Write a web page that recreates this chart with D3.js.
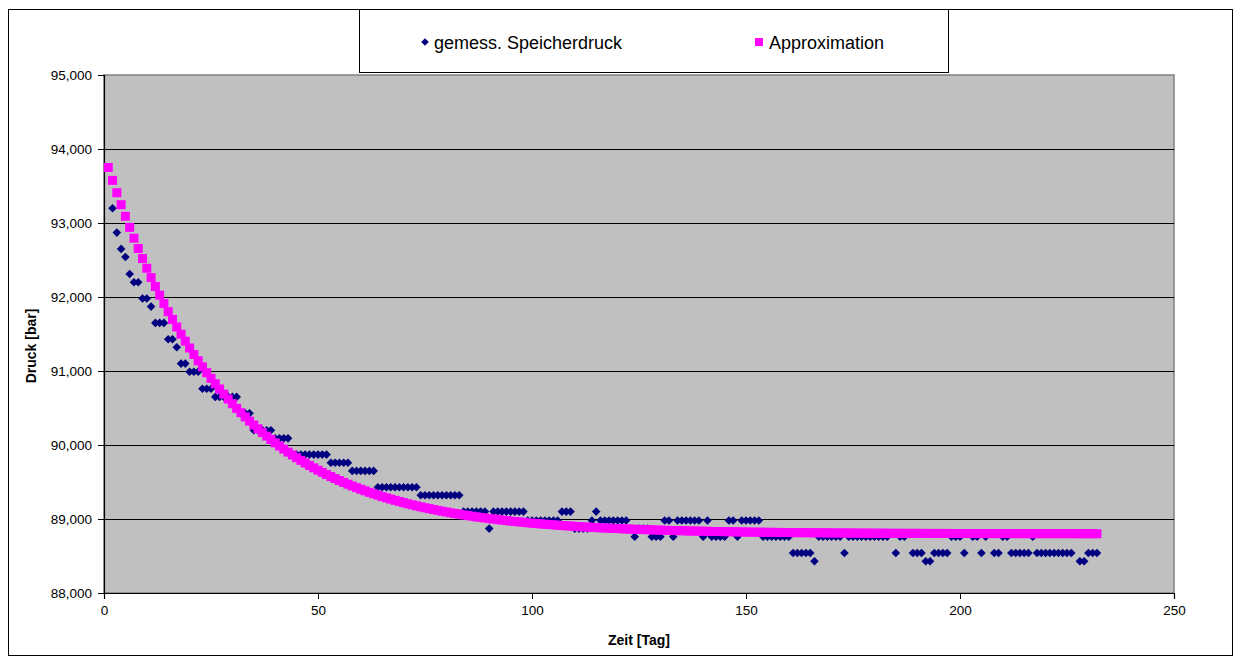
<!DOCTYPE html>
<html>
<head>
<meta charset="utf-8">
<script src="https://cdn.jsdelivr.net/npm/d3@7"></script>
<style>
  body { margin: 0; background: #fff; }
  svg { display: block; font-family: "Liberation Sans", Arial, sans-serif; }
</style>
</head>
<body>
<svg id="chart" width="1242" height="661"></svg>
<script>
// Reservoir pressure per day (day 1 = first entry); null = no reading that day
const firstDay = 1;
const measured = [
  null, 93200, 92870, 92650, 92540, 92310, 92200, 92200, 91980, 91980,
  91870, 91650, 91650, 91650, 91430, 91430, 91320, 91100, 91100, 90990,
  90990, 90990, 90760, 90760, 90760, 90650, 90650, 90650, 90650, 90650,
  90650, 90430, 90430, 90430, 90200, 90200, 90200, 90200, 90200, 90090,
  90090, 90090, 90090, 89870, 89870, 89870, 89870, 89870, 89870, 89870,
  89870, 89870, 89760, 89760, 89760, 89760, 89760, 89650, 89650, 89650,
  89650, 89650, 89650, 89430, 89430, 89430, 89430, 89430, 89430, 89430,
  89430, 89430, 89430, 89320, 89320, 89320, 89320, 89320, 89320, 89320,
  89320, 89320, 89320, 89100, 89100, 89100, 89100, 89100, 89100, 88870,
  89100, 89100, 89100, 89100, 89100, 89100, 89100, 89100, 88980, 88980,
  88980, 88980, 88980, 88980, 88980, 88980, 89100, 89100, 89100, 88870,
  88870, 88870, 88870, 88980, 89100, 88980, 88980, 88980, 88980, 88980,
  88980, 88980, 88870, 88760, 88870, 88870, 88870, 88760, 88760, 88760,
  88980, 88980, 88760, 88980, 88980, 88980, 88980, 88980, 88980, 88760,
  88980, 88760, 88760, 88760, 88760, 88980, 88980, 88760, 88980, 88980,
  88980, 88980, 88980, 88760, 88760, 88760, 88760, 88760, 88760, 88760,
  88540, 88540, 88540, 88540, 88540, 88430, 88760, 88760, 88760, 88760,
  88760, 88760, 88540, 88760, 88760, 88760, 88760, 88760, 88760, 88760,
  88760, 88760, 88760, null, 88540, 88760, 88760, null, 88540, 88540,
  88540, 88430, 88430, 88540, 88540, 88540, 88540, 88760, 88760, 88760,
  88540, null, 88760, 88760, 88540, 88760, null, 88540, 88540, 88760,
  88760, 88540, 88540, 88540, 88540, 88540, 88760, 88540, 88540, 88540,
  88540, 88540, 88540, 88540, 88540, 88540, null, 88430, 88430, 88540,
  88540, 88540
];

// Fitted decline curve, one value per day
const approximation = [
  93750, 93576, 93409, 93247, 93091, 92941, 92795, 92655, 92520, 92389,
  92263, 92142, 92025, 91911, 91802, 91697, 91595, 91497, 91403, 91311,
  91223, 91138, 91056, 90977, 90901, 90827, 90756, 90687, 90621, 90557,
  90495, 90436, 90379, 90323, 90270, 90218, 90168, 90120, 90074, 90029,
  89986, 89945, 89904, 89866, 89828, 89792, 89757, 89724, 89691, 89660,
  89630, 89601, 89573, 89546, 89520, 89494, 89470, 89446, 89424, 89402,
  89381, 89360, 89341, 89322, 89303, 89286, 89269, 89252, 89236, 89221,
  89206, 89192, 89178, 89165, 89152, 89140, 89128, 89116, 89105, 89095,
  89084, 89074, 89065, 89055, 89046, 89038, 89029, 89021, 89014, 89006,
  88999, 88992, 88985, 88979, 88972, 88966, 88961, 88955, 88949, 88944,
  88939, 88934, 88930, 88925, 88921, 88916, 88912, 88908, 88905, 88901,
  88897, 88894, 88891, 88887, 88884, 88881, 88879, 88876, 88873, 88871,
  88868, 88866, 88863, 88861, 88859, 88857, 88855, 88853, 88851, 88849,
  88848, 88846, 88844, 88843, 88841, 88840, 88838, 88837, 88836, 88835,
  88833, 88832, 88831, 88830, 88829, 88828, 88827, 88826, 88825, 88824,
  88823, 88822, 88822, 88821, 88820, 88820, 88819, 88818, 88818, 88817,
  88816, 88816, 88815, 88815, 88814, 88814, 88813, 88813, 88812, 88812,
  88811, 88811, 88811, 88810, 88810, 88810, 88809, 88809, 88809, 88808,
  88808, 88808, 88807, 88807, 88807, 88807, 88806, 88806, 88806, 88806,
  88806, 88805, 88805, 88805, 88805, 88805, 88805, 88804, 88804, 88804,
  88804, 88804, 88804, 88804, 88803, 88803, 88803, 88803, 88803, 88803,
  88803, 88803, 88803, 88802, 88802, 88802, 88802, 88802, 88802, 88802,
  88802, 88802, 88802, 88802, 88802, 88802, 88802, 88801, 88801, 88801,
  88801, 88801
];

const xTicks = [0, 50, 100, 150, 200, 250];
const yTicks = [88000, 89000, 90000, 91000, 92000, 93000, 94000, 95000];
const seriesNames = ["gemess. Speicherdruck", "Approximation"];
const xTitle = "Zeit [Tag]";
const yTitle = "Druck [bar]";

const svg = d3.select("#chart");
const plot = { left: 104, right: 1174, top: 75, bottom: 593 };

const x = d3.scaleLinear().domain([0, 250]).range([plot.left, plot.right]);
const y = d3.scaleLinear().domain([88000, 95000]).range([plot.bottom, plot.top]);

// outer chart frame
svg.append("rect")
  .attr("x", 8.5).attr("y", 9.5).attr("width", 1224).attr("height", 646)
  .attr("fill", "#fff").attr("stroke", "#000").attr("stroke-width", 1);

// plot area
svg.append("rect")
  .attr("x", plot.left).attr("y", plot.top)
  .attr("width", plot.right - plot.left).attr("height", plot.bottom - plot.top)
  .attr("fill", "#c0c0c0").attr("stroke", "#808080").attr("stroke-width", 1.5);

// horizontal gridlines
svg.append("g")
  .selectAll("line")
  .data(yTicks.filter(t => t > 88000 && t < 95000))
  .join("line")
  .attr("x1", plot.left).attr("x2", plot.right)
  .attr("y1", d => Math.round(y(d)) + 0.5).attr("y2", d => Math.round(y(d)) + 0.5)
  .attr("stroke", "#000").attr("stroke-width", 1);

// axes
const yAxis = d3.axisLeft(y).tickValues(yTicks).tickFormat(d3.format(",")).tickSize(6).tickPadding(6);
const xAxis = d3.axisBottom(x).tickValues(xTicks).tickFormat(d3.format("d")).tickSize(6).tickPadding(6);

const gy = svg.append("g").attr("transform", `translate(${plot.left},0)`).call(yAxis);
const gx = svg.append("g").attr("transform", `translate(0,${plot.bottom})`).call(xAxis);
[gx, gy].forEach(g => {
  g.select(".domain").attr("stroke", "#000").attr("stroke-width", 1.2);
  g.selectAll(".tick line").attr("stroke", "#000");
  g.selectAll(".tick text").attr("fill", "#000")
    .style("font-size", "13.5px").style("font-family", '"Liberation Sans", Arial, sans-serif');
});

// axis titles
svg.append("text")
  .attr("x", (plot.left + plot.right) / 2).attr("y", 645)
  .attr("text-anchor", "middle")
  .style("font-size", "14px").style("font-weight", "bold")
  .text(xTitle);
svg.append("text")
  .attr("transform", `translate(36,${(plot.top + plot.bottom) / 2 + 12}) rotate(-90)`)
  .attr("text-anchor", "middle")
  .style("font-size", "14px").style("font-weight", "bold")
  .text(yTitle);

const diamond = s => `M0,${-s}L${s},0L0,${s}L${-s},0Z`;

// measured points (diamonds)
const measPts = measured.map((v, i) => ({ day: firstDay + i, v })).filter(d => d.v !== null);
svg.append("g")
  .selectAll("path")
  .data(measPts)
  .join("path")
  .attr("d", diamond(4.3))
  .attr("transform", d => `translate(${x(d.day)},${y(d.v)})`)
  .attr("fill", "#000080");

// approximation (squares), drawn above the measurements
const apprPts = approximation.map((v, i) => ({ day: firstDay + i, v }));
const sq = 9;
svg.append("g")
  .selectAll("rect")
  .data(apprPts)
  .join("rect")
  .attr("x", d => x(d.day) - sq / 2).attr("y", d => y(d.v) - sq / 2)
  .attr("width", sq).attr("height", sq)
  .attr("fill", "#ff00ff");

// legend
const lg = svg.append("g");
lg.append("rect")
  .attr("x", 359.5).attr("y", 9.5).attr("width", 589).attr("height", 63)
  .attr("fill", "#fff").attr("stroke", "#000").attr("stroke-width", 1);
lg.append("path").attr("d", diamond(3.8))
  .attr("transform", "translate(425,42)").attr("fill", "#000080");
lg.append("text").attr("x", 434).attr("y", 48.5)
  .style("font-size", "18px").text(seriesNames[0]);
lg.append("rect").attr("x", 755).attr("y", 38).attr("width", 8).attr("height", 8)
  .attr("fill", "#ff00ff");
lg.append("text").attr("x", 769).attr("y", 48.5)
  .style("font-size", "18px").text(seriesNames[1]);
</script>
</body>
</html>
